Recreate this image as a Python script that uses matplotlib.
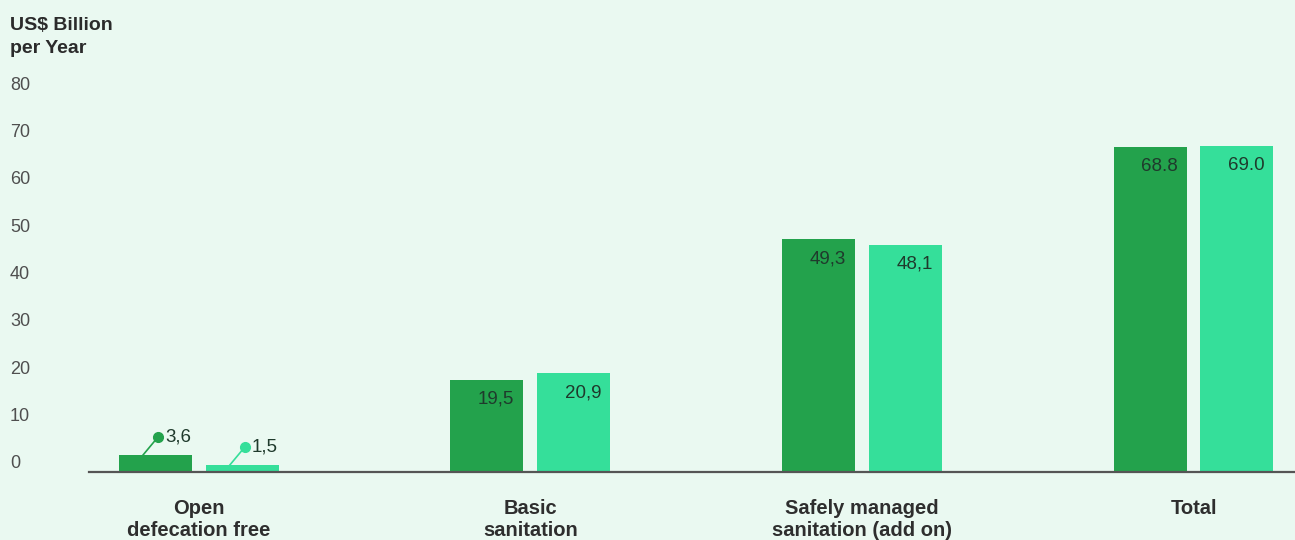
import matplotlib
matplotlib.use("Agg")
import matplotlib.pyplot as plt
import numpy as np

categories = ["Open\ndefecation free", "Basic\nsanitation", "Safely managed\nsanitation (add on)", "Total"]
series_a = [3.6, 19.5, 49.3, 68.8]
series_b = [1.5, 20.9, 48.1, 69.0]
labels_a = ["3,6", "19,5", "49,3", "68.8"]
labels_b = ["1,5", "20,9", "48,1", "69.0"]
yticks = [0, 10, 20, 30, 40, 50, 60, 70, 80]

BG = "#eaf9f1"
DARK = "#23a24c"
LIGHT = "#35df9a"
TXT = "#1f3a2c"

plt.rcParams['font.family'] = ['Liberation Sans', 'DejaVu Sans']
dpi = 100
fig = plt.figure(figsize=(12.95, 5.40), dpi=dpi, facecolor=BG)
ax = fig.add_axes([89/1295, 68/540, 1 - 89/1295, (472-94)/540])
ax.set_facecolor(BG)

x = np.arange(len(categories))
w = 0.22
off = 0.131
ax.bar(x - off, series_a, w, color=DARK, zorder=2)
ax.bar(x + off, series_b, w, color=LIGHT, zorder=2)

ax.set_xlim(-0.331, 3.306)
ax.set_ylim(0, 80)

for s in ["top", "right", "left"]:
    ax.spines[s].set_visible(False)
ax.spines["bottom"].set_color("#555555")
ax.spines["bottom"].set_linewidth(1.6)
ax.spines["bottom"].set_zorder(3)

ax.set_yticks(yticks)
ax.set_yticklabels([str(t) for t in yticks])
ax.tick_params(axis="y", length=0, pad=79*72/dpi, labelsize=13, labelcolor="#4f4f4f")
for lab in ax.get_yticklabels():
    lab.set_ha("left")
    lab.set_va("bottom")

ax.set_xticks(x)
ax.set_xticklabels(categories, fontweight="bold", fontsize=14.5, color="#2e2e2e", linespacing=1.2)
ax.tick_params(axis="x", length=0, pad=27*72/dpi)
for lab in ax.get_xticklabels():
    lab.set_va("top")

fig.text(10/1295, 1 - 17/540, "US$ Billion\nper Year", fontweight="bold", fontsize=14,
         color="#2b2b2b", va="top", ha="left", linespacing=1.45)

# value labels
for i in range(len(categories)):
    for xc, v, lab, col in [(x[i] - off, series_a[i], labels_a[i], DARK),
                            (x[i] + off, series_b[i], labels_b[i], LIGHT)]:
        if i == 0:
            dot_x = xc + 0.008
            dot_y = v + 3.8
            ax.plot([xc - 0.037, dot_x], [v, dot_y], color=col, lw=1.2, zorder=3)
            ax.plot([dot_x], [dot_y], "o", color=col, ms=7, zorder=4)
            ax.annotate(lab, (dot_x, dot_y), xytext=(5, 0), textcoords="offset points",
                        ha="left", va="center", fontsize=13.5, color=TXT)
        else:
            ax.annotate(lab, (xc + w/2, v), xytext=(-9*72/dpi, -11*72/dpi), textcoords="offset points",
                        ha="right", va="top", fontsize=13.5, color=TXT)

fig.savefig("out.png", dpi=dpi, facecolor=BG)
